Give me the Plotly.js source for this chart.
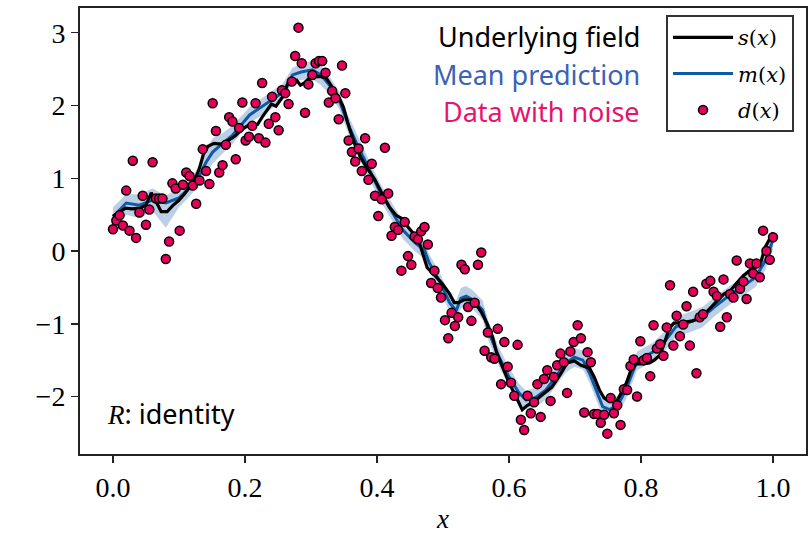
<!DOCTYPE html>
<html>
<head>
<meta charset="utf-8">
<script src="https://cdn.plot.ly/plotly-3.0.1.min.js"></script>
<style>html,body{margin:0;padding:0;background:#fff;}#chart{width:810px;height:534px;}</style>
</head>
<body>
<div id="chart"></div>
<script>
// Noisy observations d(x)
const dataX = [0.000,0.005,0.010,0.015,0.020,0.025,0.030,0.035,0.040,0.045,0.050,0.055,0.060,0.065,0.070,0.075,0.080,0.085,0.090,0.095,
0.101,0.106,0.111,0.116,0.121,0.126,0.131,0.136,0.141,0.146,0.151,0.156,0.161,0.166,0.171,0.176,0.181,0.186,0.191,0.196,
0.201,0.206,0.211,0.216,0.221,0.226,0.231,0.236,0.241,0.246,0.251,0.256,0.261,0.266,0.271,0.276,0.281,0.286,0.291,0.296,
0.302,0.307,0.312,0.317,0.322,0.327,0.332,0.337,0.342,0.347,0.352,0.357,0.362,0.367,0.372,0.377,0.382,0.387,0.392,0.397,
0.402,0.407,0.412,0.417,0.422,0.427,0.432,0.437,0.442,0.447,0.452,0.457,0.462,0.467,0.472,0.477,0.482,0.487,0.492,0.497,
0.503,0.508,0.513,0.518,0.523,0.528,0.533,0.538,0.543,0.548,0.553,0.558,0.563,0.568,0.573,0.578,0.583,0.588,0.593,0.598,
0.603,0.608,0.613,0.618,0.623,0.628,0.633,0.638,0.643,0.648,0.653,0.658,0.663,0.668,0.673,0.678,0.683,0.688,0.693,0.698,
0.704,0.709,0.714,0.719,0.724,0.729,0.734,0.739,0.744,0.749,0.754,0.759,0.764,0.769,0.774,0.779,0.784,0.789,0.794,0.799,
0.804,0.809,0.814,0.819,0.824,0.829,0.834,0.839,0.844,0.849,0.854,0.859,0.864,0.869,0.874,0.879,0.884,0.889,0.894,0.899,
0.905,0.910,0.915,0.920,0.925,0.930,0.935,0.940,0.945,0.950,0.955,0.960,0.965,0.970,0.975,0.980,0.985,0.990,0.995,1.000];
const dataY = [0.30,0.42,0.49,0.35,0.83,0.28,1.24,0.18,0.53,0.76,
0.36,0.57,1.22,0.72,0.72,0.72,-0.11,0.13,0.93,0.86,
0.28,0.91,1.08,1.03,0.90,0.65,0.97,1.40,1.10,0.92,
2.03,1.65,1.08,1.18,1.46,1.84,1.78,1.26,1.69,2.04,
1.52,1.57,1.72,2.03,1.55,2.31,1.49,1.75,2.12,1.84,
1.66,2.21,2.17,2.02,2.33,2.68,3.07,2.58,1.90,2.29,
2.42,2.58,2.61,2.61,2.45,2.04,2.20,2.10,1.81,2.55,
2.17,1.52,1.36,1.23,1.41,1.10,1.55,0.98,1.20,0.76,
0.48,0.71,1.42,0.79,0.21,0.33,0.29,-0.27,0.40,-0.07,
-0.19,0.20,0.16,0.27,0.33,0.09,-0.44,-0.27,-0.51,-0.64,
-0.95,-1.20,-0.85,-1.03,-0.91,-0.19,-0.25,-0.77,-0.96,-0.71,
-0.19,-0.02,-1.37,-1.12,-1.46,-1.48,-1.07,-1.83,-1.25,-1.59,
-1.81,-1.99,-1.29,-2.32,-2.46,-1.99,-2.23,-2.08,-1.83,-2.28,
-1.76,-1.64,-2.06,-1.73,-1.57,-1.41,-1.53,-1.95,-1.38,-1.25,
-1.02,-1.20,-2.22,-1.39,-1.53,-2.24,-2.24,-2.36,-2.25,-2.51,
-2.02,-2.23,-2.12,-2.39,-1.90,-1.91,-1.58,-1.49,-2.00,-1.24,
-1.50,-1.47,-1.72,-1.02,-1.34,-1.28,-1.44,-1.05,-0.47,-1.30,
-0.89,-1.17,-1.01,-0.76,-1.30,-0.56,-1.68,-0.91,-0.87,-0.45,
-0.41,-0.56,-0.62,-1.04,-0.39,-0.91,-0.59,-0.64,-0.13,-0.52,
-0.42,-0.66,-0.17,-0.31,-0.17,-0.36,0.28,0.00,-0.12,0.19];

// Underlying field s(x)
const fieldX = [0.000,0.010,0.019,0.029,0.041,0.050,0.058,0.064,0.073,0.082,0.090,0.099,0.108,0.117,0.125,0.131,0.137,0.144,0.153,0.164,
0.173,0.185,0.194,0.207,0.219,0.226,0.240,0.247,0.258,0.267,0.278,0.284,0.290,0.299,0.313,0.323,0.332,0.343,0.349,0.358,
0.366,0.375,0.385,0.397,0.407,0.419,0.429,0.437,0.447,0.457,0.464,0.470,0.476,0.490,0.499,0.510,0.517,0.523,0.532,0.543,
0.550,0.558,0.567,0.575,0.581,0.590,0.600,0.611,0.620,0.628,0.638,0.650,0.665,0.679,0.688,0.699,0.709,0.722,0.729,0.737,
0.744,0.752,0.763,0.770,0.778,0.785,0.793,0.803,0.813,0.820,0.829,0.837,0.843,0.850,0.865,0.878,0.890,0.898,0.907,0.919,
0.926,0.935,0.944,0.955,0.966,0.973,0.982,0.988,0.994,1.000];
const fieldY = [0.48,0.54,0.59,0.58,0.59,0.63,0.80,0.70,0.54,0.54,0.62,0.69,0.78,0.89,1.00,1.14,1.33,1.44,1.48,1.47,
1.51,1.58,1.66,1.74,1.74,1.84,2.02,1.99,2.13,2.35,2.35,2.28,2.31,2.39,2.40,2.38,2.25,2.10,1.98,1.69,
1.48,1.29,1.14,0.98,0.80,0.60,0.49,0.45,0.33,0.22,0.12,-0.07,-0.23,-0.36,-0.45,-0.59,-0.71,-0.71,-0.67,-0.67,
-0.73,-0.84,-1.00,-1.18,-1.39,-1.59,-1.81,-2.01,-2.18,-2.12,-2.07,-1.98,-1.87,-1.68,-1.54,-1.51,-1.57,-1.61,-1.73,-1.91,
-2.02,-2.07,-2.07,-1.95,-1.81,-1.63,-1.55,-1.55,-1.54,-1.50,-1.43,-1.22,-1.06,-0.99,-0.98,-0.96,-0.92,-0.85,-0.76,-0.65,
-0.59,-0.55,-0.45,-0.34,-0.26,-0.22,-0.14,0.05,0.15,0.25];

// Mean prediction m(x) and its band
const meanX = [0.000,0.020,0.040,0.060,0.080,0.100,0.116,0.131,0.141,0.151,0.166,0.181,0.207,0.237,0.257,0.272,0.285,0.302,0.315,0.328,
0.343,0.355,0.368,0.383,0.397,0.403,0.424,0.439,0.457,0.472,0.479,0.494,0.510,0.520,0.527,0.535,0.545,0.560,0.570,0.585,
0.600,0.615,0.626,0.641,0.656,0.671,0.686,0.699,0.712,0.722,0.732,0.742,0.752,0.765,0.777,0.787,0.794,0.818,0.838,0.853,
0.870,0.893,0.911,0.931,0.954,0.974,0.989,1.000];
const meanY = [0.47,0.66,0.63,0.70,0.66,0.73,0.87,1.04,1.22,1.36,1.48,1.59,1.87,2.05,2.18,2.42,2.46,2.49,2.42,2.28,
2.07,1.77,1.50,1.22,0.95,0.84,0.52,0.29,0.12,0.01,-0.16,-0.40,-0.71,-0.82,-0.65,-0.62,-0.67,-0.81,-1.13,-1.46,
-1.73,-1.95,-2.05,-2.01,-1.91,-1.73,-1.54,-1.46,-1.50,-1.68,-1.91,-2.14,-2.18,-2.12,-1.91,-1.68,-1.51,-1.39,-1.22,-1.04,
-0.99,-0.91,-0.77,-0.63,-0.49,-0.36,-0.12,0.15];
const bandLo = [0.30,0.50,0.45,0.55,0.32,0.60,0.75,0.92,1.08,1.20,1.34,1.47,1.76,1.93,2.07,2.32,2.35,2.36,2.28,2.15,
1.95,1.65,1.36,1.08,0.83,0.72,0.40,0.17,0.00,-0.11,-0.28,-0.52,-0.83,-0.94,-0.79,-0.76,-0.80,-0.94,-1.26,-1.59,
-1.86,-2.08,-2.18,-2.14,-2.04,-1.86,-1.67,-1.59,-1.63,-1.81,-2.04,-2.27,-2.31,-2.25,-2.04,-1.81,-1.64,-1.52,-1.35,-1.17,
-1.13,-1.05,-0.90,-0.76,-0.62,-0.49,-0.25,0.02];
const bandHi = [0.60,0.78,0.78,0.86,0.76,0.86,0.98,1.16,1.38,1.55,1.62,1.72,1.98,2.17,2.30,2.52,2.57,2.62,2.55,2.40,
2.19,1.89,1.64,1.36,1.07,0.96,0.64,0.41,0.24,0.13,-0.04,-0.28,-0.59,-0.68,-0.51,-0.48,-0.54,-0.68,-1.00,-1.33,
-1.60,-1.82,-1.92,-1.88,-1.78,-1.60,-1.41,-1.33,-1.37,-1.55,-1.78,-2.01,-2.05,-1.99,-1.78,-1.55,-1.38,-1.26,-1.09,-0.91,
-0.85,-0.77,-0.64,-0.50,-0.36,-0.23,0.01,0.28];

const xTicks = [0.0,0.2,0.4,0.6,0.8,1.0];
const xTickText = ['0.0','0.2','0.4','0.6','0.8','1.0'];
const yTicks = [-2,-1,0,1,2,3];

const serif = 'Liberation Serif, Times New Roman, serif';
const legSerif = 'DejaVu Serif, Liberation Serif, serif';
const sans = 'Noto Sans, Open Sans, sans-serif';

const traces = [
  {x: meanX, y: bandLo, mode: 'lines', line: {width: 0, color: 'rgba(0,0,0,0)'}, showlegend: false, hoverinfo: 'skip'},
  {x: meanX, y: bandHi, mode: 'lines', line: {width: 0, color: 'rgba(0,0,0,0)'}, fill: 'tonexty',
   fillcolor: 'rgba(95,140,195,0.42)', showlegend: false, hoverinfo: 'skip'},
  {x: meanX, y: meanY, mode: 'lines', name: '<i>m</i>(<i>x</i>)', line: {color: '#0f5aa5', width: 3},
   legendgroup: 'b', legendrank: 2},
  {x: fieldX, y: fieldY, mode: 'lines', name: '<i>s</i>(<i>x</i>)', line: {color: '#000000', width: 3.2},
   legendgroup: 'a', legendrank: 1},
  {x: dataX, y: dataY, mode: 'markers', name: '<i>d</i>(<i>x</i>)',
   marker: {color: '#e6005c', size: 9, line: {color: '#000000', width: 1.5}},
   legendgroup: 'c', legendrank: 3}
];

const layout = {
  width: 810, height: 534,
  margin: {l: 80, r: 4, t: 8, b: 80},
  paper_bgcolor: '#ffffff', plot_bgcolor: '#ffffff',
  showlegend: true,
  legend: {x: 0.9835, xanchor: 'right', y: 0.984, yanchor: 'top',
    bordercolor: '#333333', borderwidth: 2, bgcolor: '#ffffff',
    font: {family: legSerif, size: 21, color: '#000'},
    itemwidth: 60,
    traceorder: 'grouped', tracegroupgap: 6},
  xaxis: {range: [-0.05, 1.05], tickvals: xTicks, ticktext: xTickText,
    showgrid: false, zeroline: false, showline: true, mirror: true, linecolor: '#222', linewidth: 2,
    ticks: 'outside', ticklen: 7, tickwidth: 1.5, tickcolor: '#222',
    tickfont: {family: serif, size: 28, color: '#000'},
    title: {text: '<i>x</i>', font: {family: serif, size: 27, color: '#000'}}},
  yaxis: {range: [-2.79, 3.34], tickvals: yTicks,
    showgrid: false, zeroline: false, showline: true, mirror: true, linecolor: '#222', linewidth: 2,
    ticks: 'outside', ticklen: 7, tickwidth: 1.5, tickcolor: '#222',
    tickfont: {family: serif, size: 28, color: '#000'}},
  annotations: [
    {xref: 'paper', yref: 'paper', x: 0.774, y: 0.935, xanchor: 'right', yanchor: 'middle', showarrow: false,
     text: 'Underlying field', font: {family: sans, size: 27, color: '#000000'}},
    {xref: 'paper', yref: 'paper', x: 0.774, y: 0.852, xanchor: 'right', yanchor: 'middle', showarrow: false,
     text: 'Mean prediction', font: {family: sans, size: 27, color: '#3a62b8'}},
    {xref: 'paper', yref: 'paper', x: 0.774, y: 0.769, xanchor: 'right', yanchor: 'middle', showarrow: false,
     text: 'Data with noise', font: {family: sans, size: 27, color: '#e8146c'}},
    {xref: 'paper', yref: 'paper', x: 0.034, y: 0.09, xanchor: 'left', yanchor: 'middle', showarrow: false,
     text: '<span style="font-family:Liberation Serif"><i>R</i></span>: identity', font: {family: sans, size: 27, color: '#000000'}}
  ]
};

Plotly.newPlot('chart', traces, layout, {staticPlot: true, displayModeBar: false});
</script>
</body>
</html>
